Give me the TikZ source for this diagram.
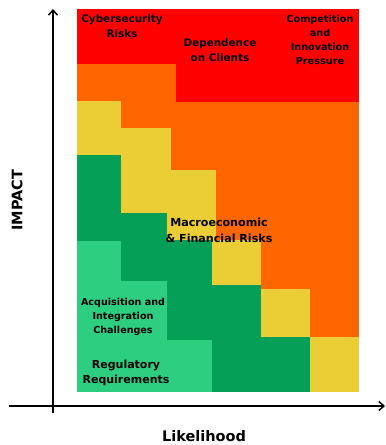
\documentclass[tikz,border=0pt]{standalone}
\usepackage{fontspec}
\setmainfont{DejaVu Sans}
\usetikzlibrary{arrows.meta}
\definecolor{rRed}{HTML}{FF0000}
\definecolor{rOrange}{HTML}{FF6600}
\definecolor{rYellow}{HTML}{EBCE36}
\definecolor{rDark}{HTML}{059F57}
\definecolor{rLight}{HTML}{2ECE80}
\tikzset{
  lbl/.style={align=center, text=black, inner sep=0pt, font=\bfseries\fontsize{10.4}{15}\selectfont},
  axis/.style={line width=1.5pt, -{Straight Barb[length=5pt,width=9pt,line width=1.5pt]}},
  axlbl/.style={inner sep=0pt, font=\bfseries\fontsize{14.5}{16}\selectfont}
}
\begin{document}
\begin{tikzpicture}[x=1pt,y=-1pt]
\useasboundingbox (0,0) rectangle (386,445);
% background zone
\fill[rOrange] (77,9) rectangle (359,392);
% red
\fill[rRed] (77,9) rectangle (176,64);
\fill[rRed] (176,9) rectangle (359,102);
% yellow
\fill[rYellow] (77,101) rectangle (121,155);
\fill[rYellow] (121,128) rectangle (171,213);
\fill[rYellow] (167,170) rectangle (216,240);
\fill[rYellow] (212,240) rectangle (261,285);
\fill[rYellow] (261,289) rectangle (310,337);
\fill[rYellow] (310,337) rectangle (359,392);
% dark green
\fill[rDark] (77,155) rectangle (121,241);
\fill[rDark] (121,213) rectangle (167,281);
\fill[rDark] (167,240) rectangle (212,285);
\fill[rDark] (167,285) rectangle (261,340);
\fill[rDark] (212,337) rectangle (310,392);
% light green
\fill[rLight] (77,241) rectangle (121,392);
\fill[rLight] (121,281) rectangle (167,392);
\fill[rLight] (167,340) rectangle (212,392);
% labels
\node[lbl] (cyber) at (122,26) {Cybersecurity\\Risks};
\node[lbl] (dep) at (220,50) {Dependence\\on Clients};
\node[lbl, font=\bfseries\fontsize{9.7}{14}\selectfont] (comp) at (320,40) {Competition\\and\\Innovation\\Pressure};
\node[lbl, font=\bfseries\fontsize{11.1}{16}\selectfont] (macro) at (219,230) {Macroeconomic\\\& Financial Risks};
\node[lbl, font=\bfseries\fontsize{9.6}{14}\selectfont] (acq) at (123,317) {Acquisition and\\Integration\\Challenges};
\node[lbl, font=\bfseries\fontsize{11}{15}\selectfont] (reg) at (126,373) {Regulatory\\Requirements};
% axes
\coordinate (yb) at (53,413);
\coordinate (yt) at (53,9);
\coordinate (xl) at (9,406);
\coordinate (xr) at (385,406);
\draw[axis] (yb) -- (yt);
\draw[axis] (xl) -- (xr);
\node[axlbl, rotate=90] (impact) at (17,200) {IMPACT};
\node[axlbl] (like) at (204,436) {Likelihood};
\end{tikzpicture}
\end{document}
